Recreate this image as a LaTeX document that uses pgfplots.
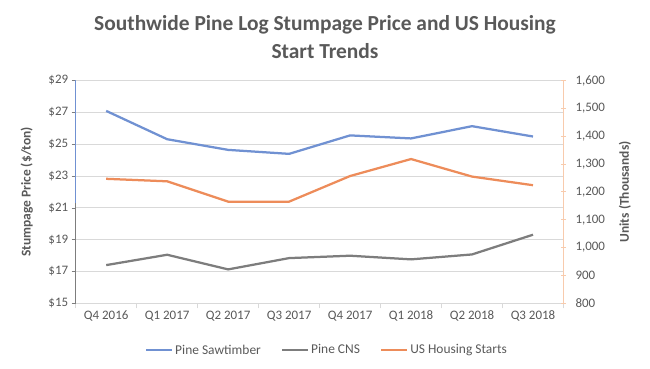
\documentclass[border=0pt]{standalone}
\usepackage{pgfplots}
\pgfplotsset{compat=1.18}
\usepackage{fontspec}
\setmainfont{Carlito}
\definecolor{cblue}{RGB}{112,145,210}
\definecolor{corange}{RGB}{237,140,90}
\definecolor{cgray}{RGB}{125,125,125}
\definecolor{ctext}{RGB}{89,89,89}
\definecolor{cgrid}{RGB}{217,217,217}
\definecolor{corlight}{RGB}{248,203,173}
\begin{document}
\begin{tikzpicture}
\useasboundingbox (0,0) rectangle (650bp,369bp);
\node[font=\bfseries\fontsize{21.5}{28}\selectfont, text=ctext, align=center] at (325bp,369bp-37bp) {Southwide Pine Log Stumpage Price and US Housing\\Start Trends};
\begin{axis}[
  at={(75.7bp,65.7bp)}, anchor=south west,
  width=487.8bp, height=222.8bp, scale only axis,
  xmin=-0.5, xmax=7.5, ymin=15, ymax=29,
  xtick={0,...,7},
  xticklabels={Q4 2016,Q1 2017,Q2 2017,Q3 2017,Q4 2017,Q1 2018,Q2 2018,Q3 2018},
  minor xtick={-0.5,0.5,...,7.5},
  ytick={15,17,...,29},
  yticklabel={\$\pgfmathprintnumber{\tick}},
  /pgf/number format/assume math mode=true,
  axis x line*=bottom, axis y line*=left,
  x axis line style={-, draw=cgrid},
  y axis line style={-, draw=none},
  ymajorgrids, grid style={cgrid, line width=0.75bp},
  tick align=outside,
  xtick style={draw=none},
  minor x tick style={draw=cgrid, line width=0.75bp},
  minor tick length=5bp,
  ytick style={draw=cgray, line width=0.6bp},
  major tick length=4bp,
  ticklabel style={font=\fontsize{13}{13}\selectfont, text=ctext},
  ylabel={Stumpage Price (\$/ton)},
  ylabel style={at={(axis description cs:-0.1005,0.5)}, anchor=center, font=\bfseries\fontsize{13.5}{14}\selectfont, text=ctext},
  clip=false,
]
\draw[cblue, line width=0.8bp] (axis cs:-0.5,21.3) -- (axis cs:-0.5,29);
\draw[cgray, line width=0.8bp] (axis cs:-0.5,15) -- (axis cs:-0.5,21.3);
\addplot[cblue, line width=2.25bp] coordinates {(0,27.09) (1,25.31) (2,24.64) (3,24.39) (4,25.55) (5,25.36) (6,26.13) (7,25.48)};
\addplot[cgray, line width=2.25bp] coordinates {(0,17.40) (1,18.05) (2,17.13) (3,17.84) (4,17.99) (5,17.76) (6,18.07) (7,19.31)};
\end{axis}
\begin{axis}[
  at={(75.7bp,65.7bp)}, anchor=south west,
  width=487.8bp, height=222.8bp, scale only axis,
  xmin=-0.5, xmax=7.5, ymin=800, ymax=1600,
  ytick={800,900,...,1600},
  axis x line=none, axis y line*=right,
  y axis line style={-, draw=corlight, line width=0.8bp},
  ytick style={draw=corlight, line width=0.8bp},
  tick align=center, major tick length=5bp,
  /pgf/number format/assume math mode=true,
  /pgf/number format/1000 sep={,},
  ticklabel style={font=\fontsize{13}{13}\selectfont, text=ctext},
  yticklabel style={xshift=6bp},
  ylabel={Units (Thousands)},
  ylabel style={at={(axis description cs:1.126,0.5)}, anchor=center, font=\bfseries\fontsize{13.5}{14}\selectfont, text=ctext},
  legend columns=3,
  legend style={at={(0.515,-0.21)}, anchor=center, draw=none, fill=none,
    font=\fontsize{13.5}{13.5}\selectfont, text=ctext,
    /tikz/every even column/.append style={column sep=18bp},
    nodes={inner xsep=2bp}},
  legend image code/.code={\draw[#1] (0bp,0bp) -- (26bp,0bp);},
]
\addlegendimage{cblue, line width=2.25bp}
\addlegendentry{Pine Sawtimber}
\addlegendimage{cgray, line width=2.25bp}
\addlegendentry{Pine CNS}
\addplot[corange, line width=2.25bp] coordinates {(0,1247) (1,1238) (2,1165) (3,1165) (4,1257) (5,1318) (6,1255) (7,1224)};
\addlegendentry{US Housing Starts}
\end{axis}
\end{tikzpicture}
\end{document}
